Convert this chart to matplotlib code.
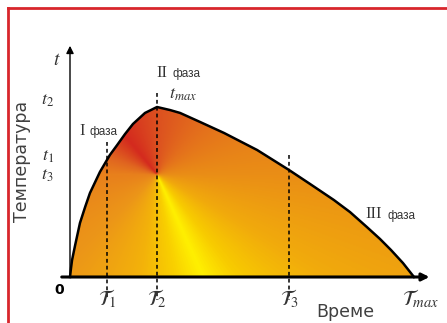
import numpy as np
import matplotlib
matplotlib.use('Agg')
import matplotlib.pyplot as plt
from matplotlib.colors import LinearSegmentedColormap
from matplotlib.lines import Line2D

plt.rcParams['mathtext.fontset'] = 'stix'

# === Data (time in units where T_max = 10, temperature where t_max = 10) ===
time_pts = [0, 0.03, 0.06, 0.15, 0.29, 0.44, 0.58, 0.87, 1.16, 1.37, 1.60, 1.83, 2.18,
            2.53, 2.91, 3.20, 3.78, 4.48, 5.44, 6.37, 6.98, 7.67, 8.14, 8.63, 9.01,
            9.33, 9.68, 10.0]
temp_pts = [0, 0.53, 1.00, 1.88, 3.18, 4.12, 4.94, 6.18, 7.18, 7.76, 8.41, 9.00, 9.65,
            10.0, 9.82, 9.65, 9.12, 8.47, 7.47, 6.29, 5.47, 4.53, 3.82, 2.94, 2.24,
            1.59, 0.82, 0]

x_ticks = [1.08, 2.53, 6.37]          # T1, T2, T3
x_tick_labels = [r'$\mathcal{T}_1$', r'$\mathcal{T}_2$', r'$\mathcal{T}_3$']
dash_tops = [7.94, 10.8, 7.18]
t_max_time = 10.0

y_ticks = [10.4, 7.1, 6.0]            # t2, t1, t3
y_tick_labels = [r'$t_2$', r'$t_1$', r'$t_3$']

# px per data unit (figure is 447x323 px)
sx, sy = 34.4, 17.0
W, H = 447, 323
x0_px, y0_px = 70, 277

fig = plt.figure(figsize=(W / 100, H / 100), dpi=100)
ax = fig.add_axes([0, 0, 1, 1])
ax.set_xlim(-x0_px / sx, (W - x0_px) / sx)
ax.set_ylim(-(H - y0_px) / sy, y0_px / sy)
ax.axis('off')

# === Conic gradient fill, centred at (T2, t3) ===
cx, cy = x_ticks[1], y_ticks[2]
gx = np.linspace(0, t_max_time, 500)
gy = np.linspace(0, 10.2, 300)
GX, GY = np.meshgrid(gx, gy)
theta = np.degrees(np.arctan2((GY - cy) * sy, (GX - cx) * sx))
stops = [(-180, '#e8801c'), (-135, '#ec9618'), (-100, '#f3b20a'), (-80, '#f9d000'),
         (-66, '#fff000'), (-52, '#f8cc00'), (-30, '#f1aa0c'), (0, '#ea8e16'),
         (45, '#e4701c'), (90, '#dc5020'), (130, '#d42a1e'), (160, '#e06420'),
         (180, '#e8801c')]
cmap = LinearSegmentedColormap.from_list(
    'conic', [((a + 180) / 360, c) for a, c in stops])
poly = ax.fill(time_pts, temp_pts, facecolor='none', edgecolor='none')[0]
im = ax.imshow((theta + 180) / 360, cmap=cmap, vmin=0, vmax=1, origin='lower',
               extent=[gx[0], gx[-1], gy[0], gy[-1]], aspect='auto',
               interpolation='bilinear', zorder=1)
im.set_clip_path(poly)

# curve
ax.plot(time_pts, temp_pts, color='black', lw=1.8, zorder=3)

# dashed guide lines
for xt, top in zip(x_ticks, dash_tops):
    ax.plot([xt, xt], [top, -1.35], color='black', lw=1.1,
            linestyle=(0, (2.5, 2)), zorder=2)

# axes with arrows
ax.annotate('', xy=(10.45, 0), xytext=(-0.24, 0),
            arrowprops=dict(arrowstyle='-|>', lw=2.2, color='black',
                            mutation_scale=11, shrinkA=0, shrinkB=0), zorder=4)
ax.annotate('', xy=(0, 13.6), xytext=(0, 0),
            arrowprops=dict(arrowstyle='-|>', lw=1.0, color='black',
                            mutation_scale=11, shrinkA=0, shrinkB=0), zorder=4)

# tick labels
for xt, lab in zip(x_ticks, x_tick_labels):
    ax.text(xt - (0.5 if lab.endswith('3}$') else 0), -1.25, lab, fontsize=15,
            ha='center', va='center', color='#333333')
ax.text(10.2, -1.25, r'$\mathcal{T}_{max}$', fontsize=15, ha='center',
        va='center', color='#333333')
ax.text(-0.3, -0.75, '0', fontsize=10, fontweight='bold', ha='center',
        va='center', family='DejaVu Sans')
for yt, lab in zip(y_ticks, y_tick_labels):
    ax.text(-0.65, yt, lab, fontsize=13, ha='center', va='center',
            color='#333333')
ax.text(-0.38, 12.8, r'$t$', fontsize=14, ha='center', va='center',
        color='#333333')

# axis titles
ax.text(8.0, -2.05, 'Време', fontsize=12.5, ha='center', va='center',
        color='#404040', family='DejaVu Sans')
ax.text(-1.39, 6.8, 'Температура', fontsize=12.5, ha='center', va='center',
        rotation=90, color='#404040', family='DejaVu Sans')

# phase labels
ax.text(0.34, 8.6, 'I', fontsize=12, family='Liberation Serif',
        ha='center', va='center', color='#333333')
ax.text(0.97, 8.55, 'фаза', fontsize=8.5, family='Liberation Sans',
        ha='center', va='center', color='#333333')
ax.text(2.67, 12.0, 'II', fontsize=12, family='Liberation Serif',
        ha='center', va='center', color='#333333')
ax.text(3.38, 11.95, 'фаза', fontsize=8.5, family='Liberation Sans',
        ha='center', va='center', color='#333333')
ax.text(3.28, 10.75, r'$t_{max}$', fontsize=13, ha='center', va='center',
        color='#333333')
ax.text(8.84, 3.7, 'III', fontsize=12, family='Liberation Serif',
        ha='center', va='center', color='#333333')
ax.text(9.65, 3.6, 'фаза', fontsize=8.5, family='Liberation Sans',
        ha='center', va='center', color='#333333')

# red frame
bx, by = 8 / W, 1 - 8 / H
fig.add_artist(Line2D([bx, 1], [by, by], transform=fig.transFigure,
                      color='#d8262c', lw=2))
fig.add_artist(Line2D([bx, bx], [0, by], transform=fig.transFigure,
                      color='#d8262c', lw=2))

fig.savefig('out.png', dpi=100)
